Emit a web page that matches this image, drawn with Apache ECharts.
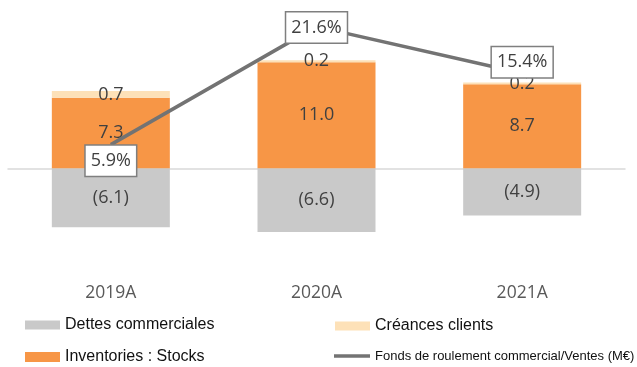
<!DOCTYPE html>
<html>
<head>
<meta charset="utf-8">
<script src="https://cdn.jsdelivr.net/npm/echarts@6/dist/echarts.min.js"></script>
<style>html,body{margin:0;padding:0;background:#fff;}#c{width:637px;height:367px;}</style>
</head>
<body>
<div id="c"></div>
<script>
const categories = ['2019A', '2020A', '2021A'];
const dettes = [-6.1, -6.6, -4.9];
const stocks = [7.3, 11.0, 8.7];
const creances = [0.7, 0.2, 0.2];
const ratio = [5.9, 21.6, 15.4];

const nameDettes = 'Dettes commerciales';
const nameCreances = 'Créances clients';
const nameStocks = 'Inventories : Stocks';
const nameRatio = 'Fonds de roulement commercial/Ventes (M€)';

const ratioLabelOffsets = [[0, 16], [0, 1], [0, -11]];

const labelFont = { fontFamily: 'Open Sans', fontSize: 18, color: '#404040' };
const barW = 118;

const chart = echarts.init(document.getElementById('c'), null, { renderer: 'canvas' });

function legendItem(name, left, top, color, iconH, iconW, fs) {
  return {
    data: [{ name: name, icon: 'rect', itemStyle: { color: color, borderWidth: 0 } }],
    left: left, top: top, padding: 0, itemGap: 0,
    itemWidth: iconW, itemHeight: iconH,
    textStyle: { fontFamily: 'Liberation Sans', fontSize: fs, color: '#111', lineHeight: 20, padding: [0, 0, 0, 0] },
    selectedMode: false
  };
}

chart.setOption({
  animation: false,
  grid: [
    { left: 8, right: 12, top: 52.5, height: 193, outerBoundsMode: 'none' },
    { left: 8, right: 12, top: 23.6, height: 165.4, outerBoundsMode: 'none' }
  ],
  xAxis: [
    { type: 'category', gridIndex: 0, data: categories,
      axisLine: { show: true, onZero: true, lineStyle: { color: '#D9D9D9', width: 1.5 } },
      axisTick: { show: false }, axisLabel: { show: false } },
    { type: 'category', gridIndex: 0, data: categories, position: 'bottom',
      axisLine: { show: false, onZero: false }, axisTick: { show: false },
      axisLabel: { show: true, margin: 39, fontFamily: 'Open Sans', fontSize: 17.5, color: '#595959' } },
    { type: 'category', gridIndex: 1, data: categories, show: false }
  ],
  yAxis: [
    { type: 'value', gridIndex: 0, min: -8, max: 12, show: false },
    { type: 'value', gridIndex: 1, min: 0, max: 22, show: false }
  ],
  legend: [
    legendItem(nameDettes, 25, 315, '#C9C9C9', 9, 35, 16),
    legendItem(nameStocks, 25, 347, '#F79646', 10, 35, 16),
    legendItem(nameCreances, 335, 316, '#FDE1B8', 9, 35, 16),
    legendItem(nameRatio, 334, 346, '#737373', 3.5, 36, 13)
  ],
  series: [
    { name: nameDettes, type: 'bar', stack: 'neg', xAxisIndex: 0, yAxisIndex: 0, barWidth: barW,
      data: dettes, itemStyle: { color: '#C9C9C9' }, z: 2,
      label: { show: true, position: 'inside', ...labelFont,
        formatter: p => '(' + Math.abs(p.value).toFixed(1) + ')' } },
    { name: nameStocks, type: 'bar', stack: 'pos', xAxisIndex: 0, yAxisIndex: 0, barWidth: barW, barGap: '-100%',
      data: stocks, itemStyle: { color: '#F79646' }, z: 2,
      label: { show: true, position: 'inside', ...labelFont, formatter: p => p.value.toFixed(1) } },
    { name: nameCreances, type: 'bar', stack: 'pos', xAxisIndex: 0, yAxisIndex: 0, barWidth: barW,
      data: creances, itemStyle: { color: '#FDE1B8' }, z: 2,
      label: { show: true, position: 'inside', ...labelFont, formatter: p => p.value.toFixed(1) } },
    { name: nameRatio, type: 'line', xAxisIndex: 2, yAxisIndex: 1, z: 5,
      data: ratio.map((v, i) => ({ value: v, label: { offset: ratioLabelOffsets[i] } })),
      symbol: 'circle', symbolSize: 1, showSymbol: true,
      itemStyle: { color: '#737373' },
      lineStyle: { color: '#737373', width: 3.5 },
      label: { show: true, position: 'inside', ...labelFont,
        backgroundColor: '#fff', borderColor: '#7F7F7F', borderWidth: 1.5,
        padding: [5, 5, 5, 5], lineHeight: 20,
        formatter: p => p.value.toFixed(1) + '%' } }
  ]
});
</script>
</body>
</html>
